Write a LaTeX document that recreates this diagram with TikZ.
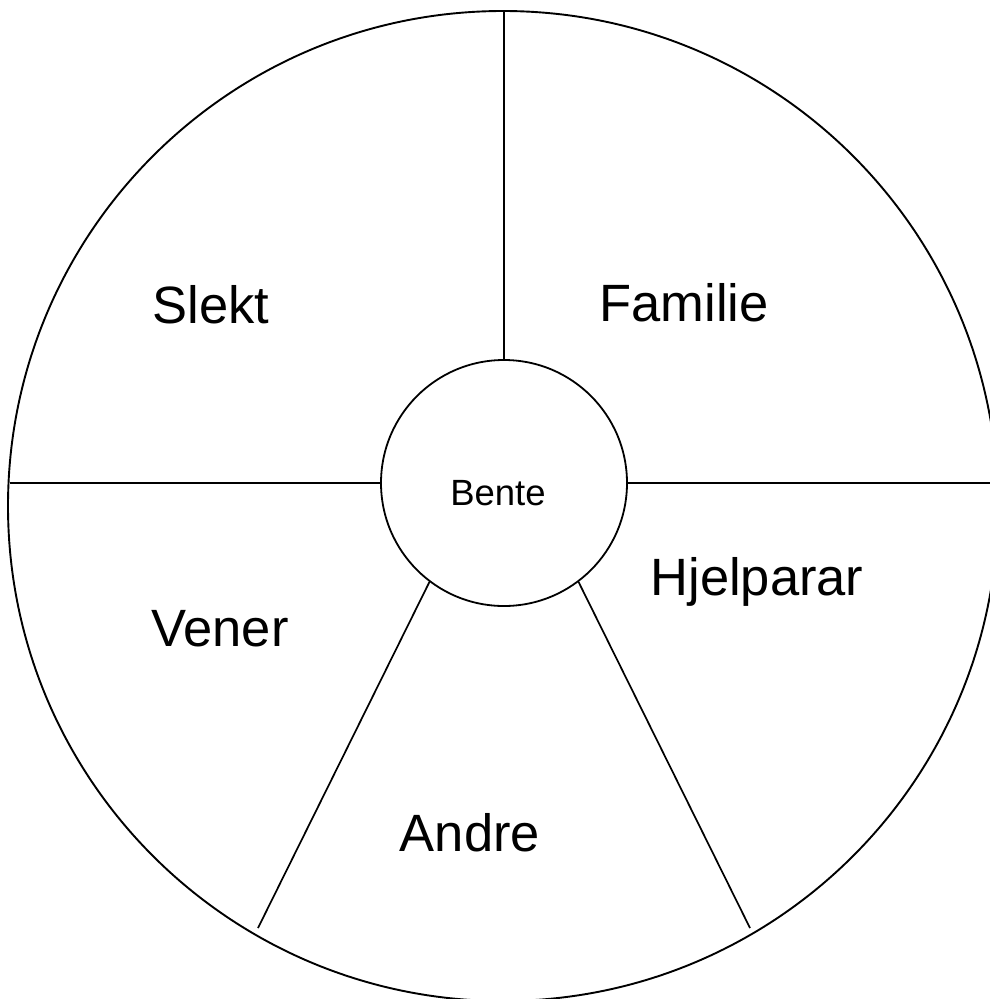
\documentclass[tikz,border=0pt]{standalone}
\usepackage{fontspec}
\setmainfont{Liberation Sans}
\usetikzlibrary{positioning}

\tikzset{
    wheel/.style={line width=1.9pt},
    spoke/.style={line width=1.7pt},
    sector/.style={anchor=base, inner sep=0pt, font=\fontsize{52.5}{60}\selectfont},
    hub/.style={circle, draw, line width=1.8pt, minimum size=246pt, inner sep=0pt}
}

\begin{document}
\begin{tikzpicture}[x=1pt,y=-1pt]
    \useasboundingbox (0,0) rectangle (990,999);
    \clip (0,0) rectangle (990,999);
    % Outer ring
    \draw[wheel] (503,506) circle (495pt);
    % Centre person
    \node[hub] (bente) at (504,483) {};
    \node[anchor=base, inner sep=0pt, font=\fontsize{36.5}{42}\selectfont] (name) at (498,505.7) {Bente};
    % Spoke ends
    \coordinate (top) at (504,12);
    \coordinate (left) at (10,483);
    \coordinate (right) at (990,483);
    \coordinate (lowl) at (258,928);
    \coordinate (lowr) at (750,928);
    % Spokes
    \draw[spoke] (bente.north) -- (top);
    \draw[spoke] (bente.west) -- (left);
    \draw[spoke] (bente.east) -- (right);
    \draw[spoke] (bente.233) -- (lowl);
    \draw[spoke] (bente.307) -- (lowr);
    % Sector labels
    \node[sector] (slekt) at (211,323.3) {Slekt};
    \node[sector] (familie) at (684,321.7) {Familie};
    \node[sector] (hjelp) at (757,595) {Hjelparar};
    \node[sector] (vener) at (220,646.7) {Vener};
    \node[sector] (andre) at (470,851.7) {Andre};
\end{tikzpicture}
\end{document}
